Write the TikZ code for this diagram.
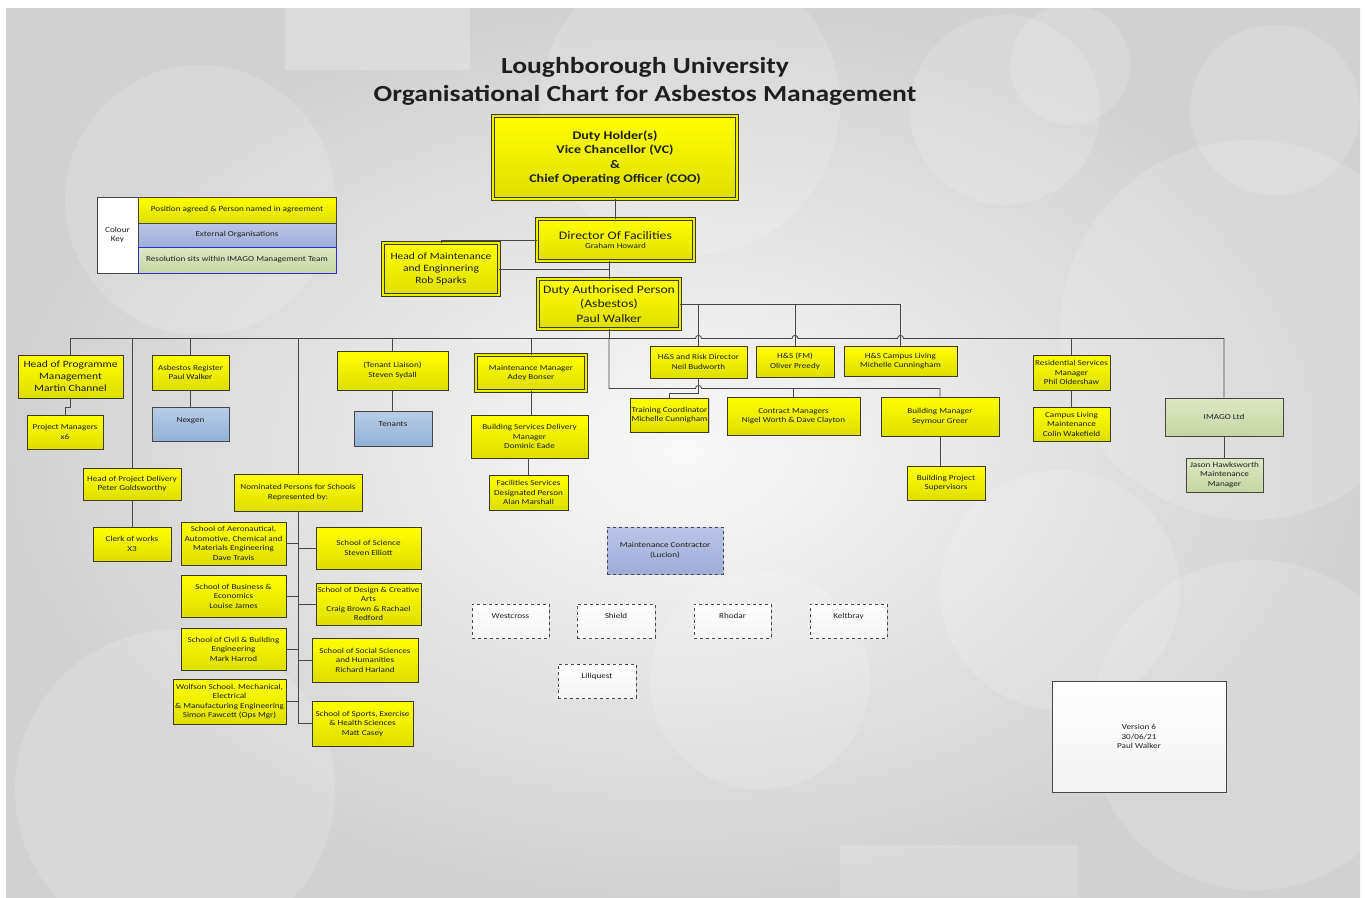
\documentclass[tikz,border=0pt]{standalone}
\usepackage{fontspec}
\setmainfont{Carlito}[FakeStretch=1.2]
\usetikzlibrary{calc,shadows}
\definecolor{boxline}{HTML}{3B3B26}
\definecolor{linegray}{HTML}{474747}
\definecolor{txt}{HTML}{1F1F1F}
\definecolor{yelltop}{HTML}{FFFF00}
\definecolor{yellbot}{HTML}{DEDE00}
\definecolor{yellgap}{HTML}{EDED00}
\definecolor{bluetop}{HTML}{B9CDE5}
\definecolor{bluebot}{HTML}{93B1D6}
\definecolor{periwtop}{HTML}{BCC5E7}
\definecolor{periwbot}{HTML}{9EACD8}
\definecolor{greentop}{HTML}{DDE7C6}
\definecolor{greenbot}{HTML}{C6D6A2}
\definecolor{keyblue}{HTML}{2E2EE0}

\tikzset{
  conn/.style={draw=linegray, line width=0.8pt},
  sz/.style 2 args={minimum width=#1pt, minimum height=#2pt},
  ybox/.style={draw=boxline, line width=0.9pt, top color=yelltop, bottom color=yellbot,
    align=center, inner sep=1pt, text=txt, font=\fontsize{7.6}{9.5}\selectfont,
    drop shadow={opacity=0.35, shadow xshift=1.3pt, shadow yshift=-1.3pt}},
  dbl/.style={double=yellgap, double distance=1.8pt, line width=0.8pt},
  med/.style={font=\fontsize{9.6}{12}\selectfont},
  big/.style={font=\fontsize{11.4}{14.5}\selectfont},
  bbox/.style={ybox, draw=linegray, top color=bluetop, bottom color=bluebot},
  pbox/.style={ybox, draw=linegray, top color=periwtop, bottom color=periwbot},
  gbox/.style={ybox, draw=linegray, top color=greentop, bottom color=greenbot},
  contractor/.style={ybox, draw=linegray, dashed, top color=white, bottom color=gray!8, drop shadow={opacity=0}},
}

\begin{document}
\begin{tikzpicture}[x=1pt, y=-1pt]
\useasboundingbox (0,0) rectangle (1365,897);

% background
\shade[inner color=gray!5, outer color=gray!36] (6,8) rectangle (1360,897);
\begin{scope}
  \clip (6,8) rectangle (1360,897);
  \fill[white, opacity=0.2] (285,8) rectangle (470,70);
  \fill[white, opacity=0.16] (840,845) rectangle (1078,897);
  \foreach \cx/\cy/\r in {200/200/135, 690/105/150, 1005/110/95, 1070/65/60, 1275/110/85,
      1250/330/190, 1255/725/165, 175/790/160, 760/680/110, 1060/590/120}
    \fill[white, opacity=0.15] (\cx,\cy) circle (\r pt);
\end{scope}

% title
\node[align=center, text=txt, font=\fontsize{23}{28}\selectfont\bfseries] (title) at (645,81)
  {Loughborough University\\Organisational Chart for Asbestos Management};

% top of the chain
\node[ybox, dbl, sz={244}{83}, font=\fontsize{11.7}{14.3}\selectfont\bfseries] (duty) at (615,157.5)
  {Duty Holder(s)\\Vice Chancellor  (VC)\\\&\\Chief Operating Officer  (COO)};
\node[ybox, dbl, sz={157}{42}] (dof) at (615.5,240)
  {{\fontsize{11.5}{13}\selectfont Director Of Facilities}\\Graham Howard};
\node[ybox, dbl, med, sz={116}{52}] (hom) at (441,269)
  {Head of Maintenance\\and Enginnering\\Rob Sparks};
\node[ybox, dbl, big, sz={142}{50}] (dap) at (609,304)
  {Duty Authorised Person\\(Asbestos)\\Paul Walker};

% colour key
\node[ybox, draw=linegray, top color=white, bottom color=white, sz={41}{76}, drop shadow={opacity=0}] (keyhead) at (117.5,235) {Colour\\Key};
\node[ybox, draw=linegray, sz={198}{26}, drop shadow={opacity=0}] (keyagreed) at (237,210) {Position agreed \& Person named in agreement};
\node[pbox, sz={198}{24}, drop shadow={opacity=0}] (keyext) at (237,235) {External Organisations};
\node[gbox, draw=keyblue, sz={198}{26}, drop shadow={opacity=0}] (keyimago) at (237,260) {Resolution sits within IMAGO Management Team};

% second level
\node[ybox, med, sz={105}{43}] (hopm) at (70.5,376.5) {Head of Programme\\Management\\Martin Channel};
\node[ybox, sz={76}{34}] (pm) at (65,432) {Project Managers\\x6};
\node[ybox, sz={98}{32}] (hopd) at (132,484) {Head of Project Delivery\\Peter Goldsworthy};
\node[ybox, sz={78}{34}] (cow) at (132,544) {Clerk of works\\X3};
\node[ybox, sz={77}{35}] (ar) at (190.5,372.5) {Asbestos Register\\Paul Walker};
\node[bbox, sz={77}{34}] (nexgen) at (190.5,424) {\raisebox{8pt}{Nexgen}};
\node[ybox, sz={111}{39}] (tl) at (392.5,370.5) {(Tenant Liaison)\\Steven Sydall};
\node[bbox, sz={78}{35}] (tenants) at (393,428.5) {\raisebox{8pt}{Tenants}};
\node[ybox, dbl, sz={110}{36}] (mm) at (531,373) {Maintenance Manager\\Adey Bonser};
\node[ybox, sz={117}{43}] (bsdm) at (529.5,436.5) {Building Services Delivery\\Manager\\Dominic Eade};
\node[ybox, sz={79}{35}] (fsdp) at (528.5,492.5) {Facilities Services\\Designated Person\\Alan Marshall};
\node[ybox, sz={97}{32}] (hsr) at (698.5,362) {H\&S and Risk Director\\Neil Budworth};
\node[ybox, sz={78}{31}] (hsfm) at (795,361.5) {H\&S (FM)\\Oliver Preedy};
\node[ybox, sz={113}{30}] (hscl) at (900.5,361) {H\&S Campus Living\\Michelle Cunningham};
\node[ybox, sz={77}{34}] (tc) at (669.5,415) {Training Coordinator\\Michelle Cunnigham};
\node[ybox, sz={133}{38}] (cm) at (793.5,416) {Contract Managers\\Nigel Worth \& Dave Clayton};
\node[ybox, sz={118}{39}] (bm) at (940,416.5) {Building Manager\\Seymour Greer};
\node[ybox, sz={78}{34}] (bps) at (946,483) {Building Project\\Supervisors};
\node[ybox, sz={77}{35}] (rsm) at (1071.5,372.5) {Residential Services\\Manager\\Phil Oldershaw};
\node[ybox, sz={77}{34}] (clm) at (1071.5,424) {Campus Living\\Maintenance\\Colin Wakefield};
\node[gbox, sz={118}{38}] (imago) at (1224,417) {IMAGO Ltd};
\node[gbox, sz={77}{34}] (jh) at (1224.5,475) {Jason Hawksworth\\Maintenance\\Manager};

% schools
\node[ybox, sz={128}{37}] (npfs) at (298,492.5) {Nominated Persons for  Schools\\Represented by:};
\node[ybox, sz={105}{43}] (aero) at (233.5,543.5) {School of Aeronautical,\\Automotive, Chemical and\\Materials Engineering\\Dave Travis};
\node[ybox, sz={105}{42}] (business) at (233.5,596) {School of Business \&\\Economics\\Louise James};
\node[ybox, sz={105}{42}] (civil) at (233.5,649) {School of Civil \& Building\\Engineering\\Mark Harrod};
\node[ybox, sz={113}{45}] (wolfson) at (229.5,701.5) {Wolfson School. Mechanical,\\Electrical\\\& Manufacturing Engineering\\Simon Fawcett (Ops Mgr)};
\node[ybox, sz={105}{42}] (science) at (368.5,548) {School of Science\\Steven Elliott};
\node[ybox, sz={105}{42}] (design) at (368.5,604) {School of Design \& Creative\\Arts\\Craig Brown \& Rachael\\Redford};
\node[ybox, sz={106}{44}] (social) at (365,660) {School of Social Sciences\\and Humanities\\Richard Harland};
\node[ybox, sz={101}{45}] (sports) at (362.5,723.5) {School of Sports, Exercise\\\& Health Sciences\\Matt Casey};

% contractors
\node[pbox, dashed, sz={116}{47}] (mc) at (665,550.5) {Maintenance Contractor\\(Lucion)};
\node[contractor, sz={77}{34}] (westcross) at (510.5,621) {\raisebox{10pt}{Westcross}};
\node[contractor, sz={78}{34}] (shield) at (616,621) {\raisebox{10pt}{Shield}};
\node[contractor, sz={77}{34}] (rhodar) at (732.5,621) {\raisebox{10pt}{Rhodar}};
\node[contractor, sz={77}{34}] (keltbray) at (848.5,621) {\raisebox{10pt}{Keltbray}};
\node[contractor, sz={78}{34}] (liliquest) at (597,681) {\raisebox{10pt}{Liliquest}};

% version
\node[ybox, draw=linegray, top color=white, bottom color=gray!10, sz={174}{111}] (version) at (1139,736.5) {Version 6\\30/06/21\\Paul Walker};

% connectors
\coordinate (bus) at ($(dap.south)+(0,9)$);
\coordinate (lbus) at ($(dap.south)+(0,59)$);
\coordinate (tcjoin) at ($(hsr.south)+(0,15)$);

\draw[conn] (duty.south) -- (duty.south |- dof.north);
\draw[conn] (dof.west) -| (hom.north);
\draw[conn] (dap.north |- dof.south) -- (dap.north);
\draw[conn] (hom.east) -- (hom.east -| dap.north);

\draw[conn] (dap.south) -- (bus);
\draw[conn] (bus) -| (hopm.north);
\draw[conn] (bus) -| (hopd.north);
\draw[conn] (bus) -| (ar.north);
\draw[conn] (bus) -| (npfs.north);
\draw[conn] (bus) -| (tl.north);
\draw[conn] (bus) -| (mm.north);
\draw[conn] (bus) -- ($(bus -| hsr.north)+(-3,0)$) arc[start angle=180, end angle=0, radius=3pt]
  -- ($(bus -| hsfm.north)+(-3,0)$) arc[start angle=180, end angle=0, radius=3pt]
  -- ($(bus -| hscl.north)+(-3,0)$) arc[start angle=180, end angle=0, radius=3pt]
  -| (imago.north);
\draw[conn] (rsm.north |- bus) -- (rsm.north);

\draw[conn] (dap.east) -| (hscl.north);
\draw[conn] (dap.east -| hsr.north) -- (hsr.north);
\draw[conn] (dap.east -| hsfm.north) -- (hsfm.north);

\draw[conn] (bus) -- (lbus) -- ($(lbus -| hsr.south)+(-3,0)$) arc[start angle=180, end angle=0, radius=3pt]
  -| (bm.north);
\draw[conn] (lbus -| cm.north) -- (cm.north);
\draw[conn] (hsr.south) -- (tcjoin) -| (tc.north);

\draw[conn] (hopm.south) -- ++(0,9) -| (pm.north);
\draw[conn] (hopd.south) -- (cow.north);
\draw[conn] (ar.south) -- (nexgen.north);
\draw[conn] (tl.south) -- (tl.south |- tenants.north);
\draw[conn] (mm.south) -- (mm.south |- bsdm.north);
\draw[conn] (fsdp.north |- bsdm.south) -- (fsdp.north);
\draw[conn] (bm.south) -- (bm.south |- bps.north);
\draw[conn] (rsm.south) -- (clm.north);
\draw[conn] (imago.south) -- (imago.south |- jh.north);

\draw[conn] (npfs.south) -- (npfs.south |- sports.west) -- (sports.west);
\foreach \s in {aero, business, civil, wolfson}
  \draw[conn] (\s.east) -- (\s.east -| npfs.south);
\foreach \s in {science, design, social}
  \draw[conn] (\s.west) -- (\s.west -| npfs.south);
\end{tikzpicture}
\end{document}
